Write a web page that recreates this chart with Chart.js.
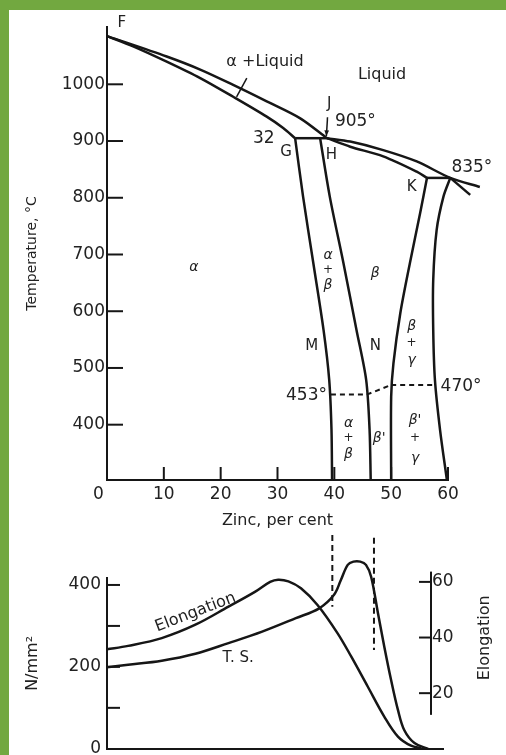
<!DOCTYPE html>
<html><head><meta charset="utf-8">
<script src="https://cdn.jsdelivr.net/npm/chart.js@4.4.1/dist/chart.umd.min.js"></script>
<style>
html,body{margin:0;padding:0;width:506px;height:755px;overflow:hidden;background:#72a840;}
#panel{position:absolute;left:9px;top:10px;width:497px;height:745px;background:#fff;}
#phase{position:absolute;left:9px;top:10px;}
#props{position:absolute;left:9px;top:535px;}
</style></head><body>
<div id="panel"></div>
<canvas id="phase" width="497" height="525"></canvas>
<canvas id="props" width="497" height="230"></canvas>
<script>
// ---------- data: phase diagram (zinc %, temperature °C) ----------
const zincTicks = [0, 10, 20, 30, 40, 50, 60];
const zincRange = [0, 60];
const tempTicks = [400, 500, 600, 700, 800, 900, 1000];
const tempRange = [302.5, 1101];

const liquidusAlpha = [[0,1085],[10.5,1049],[16.4,1026],[22.2,999],[28.1,970],[34.0,940],[38.7,905]];
const solidusAlpha  = [[0,1085],[4.6,1067],[10.5,1040],[16.4,1011],[22.2,978],[28.1,943],[31.0,923],[33.1,905]];
const peritectic    = [[33.1,905],[38.7,905]];
const liquidusBeta  = [[65.6,819],[60.4,835],[54.5,864],[48.6,884],[42.8,899],[38.7,905]];
const solidusBeta   = [[38.7,905],[42.8,890],[48.6,873],[54.5,846],[56.3,835]];
const peritecticK   = [[56.3,835],[60.4,835]];
const gammaTail     = [[60.4,835],[63.9,805]];
const alphaSolvus   = [[33.1,905],[34.5,802],[36.3,685],[38.1,567],[39.1,479],[39.5,391],[39.6,303]];
const betaLeft      = [[37.5,905],[39.2,802],[41.6,685],[43.9,567],[45.6,479],[46.2,391],[46.4,303]];
const betaRight     = [[56.3,835],[55.1,773],[53.3,685],[51.6,596],[50.4,508],[50.0,449],[50.0,303]];
const gammaLeft     = [[60.4,835],[59.2,802],[58.0,743],[57.4,655],[57.4,567],[57.7,479],[58.6,391],[59.8,303]];
const orderAlphaBeta = [[39.4,453],[45.7,453]];
const orderSlope     = [[45.7,453],[50.0,470]];
const orderBetaGamma = [[50.0,470],[57.5,470]];

// ---------- data: properties (zinc %, N/mm², elongation %) ----------
const propZincRange = [0, 58.9];
const strengthTicks = [0, 100, 200, 300, 400];
const strengthTickLabels = ['0', '', '200', '', '400'];
const strengthRange = [0, 417];
const elongTicks = [20, 40, 60];
const elongRange = [0, 61.4];
const elongAxisSpan = [12.2, 63.7];
const elongAxisZinc = 56.8;
const tensile = [[0,199],[3.7,205],[9.6,215],[15.5,232],[21.3,258],[27.2,286],[33.1,319],[37.2,343],[39.8,376],[41.0,412],[42.2,449],[43.2,457],[44.4,457],[45.4,449],[46.3,420],[47.5,331],[48.6,250],[49.8,168],[51.0,95],[52.1,46],[53.9,14],[56.3,0]];
const elongation = [[0,35.8],[3.7,37.0],[9.6,39.8],[15.5,44.6],[21.3,51.1],[26.0,56.5],[28.6,60.0],[30.0,60.8],[31.8,60.2],[34.0,57.7],[36.9,51.7],[40.4,41.6],[42.8,33.2],[45.7,22.4],[48.6,11.6],[51.0,4.4],[53.3,1.1],[55.1,0.2]];
const limitLow  = [[39.5,522],[39.5,347]];
const limitHigh = [[46.8,515],[46.8,241]];

// ---------- styling ----------
const INK = '#161616';
const TXT = '#222';
const FAM = '"DejaVu Sans", sans-serif';
const pts = a => a.map(([x, y]) => ({x, y}));

function lineSet(arr, opts = {}) {
  return Object.assign({data: pts(arr), showLine: true, borderColor: INK, borderWidth: 2.5,
    pointRadius: 0, tension: 0.3, fill: false, clip: false, capBezierPoints: false}, opts);
}
function dashSet(arr, extra = {}) {
  return lineSet(arr, Object.assign({borderDash: [5, 4], borderWidth: 2, tension: 0}, extra));
}
function text(ctx, s, x, y, font, rot = 0, align = 'center') {
  ctx.save(); ctx.translate(x, y); if (rot) ctx.rotate(rot * Math.PI / 180);
  ctx.font = font; ctx.fillStyle = TXT; ctx.textAlign = align; ctx.textBaseline = 'middle';
  ctx.fillText(s, 0, 0); ctx.restore();
}
function seg(ctx, x1, y1, x2, y2) { ctx.beginPath(); ctx.moveTo(x1, y1); ctx.lineTo(x2, y2); ctx.stroke(); }

// annotation labels for the phase diagram: [text, zinc, temp, kind]
const phaseLabels = [
  ['F', 2.6, 1107, 'l'], ['α +Liquid', 27.8, 1040, 'w'], ['Liquid', 48.4, 1017, 'w'],
  ['J', 39.1, 965, 'l'], ['905°', 43.7, 935, 'n'], ['32', 27.6, 905, 'n'],
  ['G', 31.5, 881, 'l'], ['H', 39.5, 876, 'l'], ['835°', 64.2, 853, 'n'], ['K', 53.6, 819, 'l'],
  ['α', 15.3, 678, 'g'],
  ['α', 38.9, 699, 'g'], ['+', 38.9, 673, 'p'], ['β', 38.9, 646, 'g'],
  ['β', 47.2, 667, 'g'], ['M', 36.0, 538, 'l'], ['N', 47.2, 538, 'l'],
  ['β', 53.6, 573, 'g'], ['+', 53.6, 544, 'p'], ['γ', 53.6, 514, 'g'],
  ['453°', 35.1, 452, 'n'], ['470°', 62.3, 468, 'n'],
  ['α', 42.5, 402, 'g'], ['+', 42.5, 376, 'p'], ['β', 42.5, 347, 'g'],
  ["β'", 47.9, 376, 'g'],
  ["β'", 54.2, 408, 'g'], ['+', 54.2, 376, 'p'], ['γ', 54.2, 341, 'g']
];
const labelFonts = {
  l: '15px ' + FAM, w: '16px ' + FAM, n: '17px ' + FAM,
  g: 'italic 14px ' + FAM, p: '12px ' + FAM
};
const pointers = [
  {from: [24.6, 1011], to: [22.8, 978], head: false},
  {from: [38.8, 942], to: [38.6, 909], head: true}
];

const phaseDecor = {
  id: 'phaseDecor',
  afterDraw(chart) {
    const {ctx, chartArea: ca, scales: {x, y}} = chart;
    ctx.save();
    ctx.strokeStyle = INK; ctx.lineWidth = 2;
    y.ticks.forEach(t => { const p = y.getPixelForValue(t.value); seg(ctx, ca.left, p, ca.left + 16, p); });
    x.ticks.forEach(t => { if (t.value === 0) return; const p = x.getPixelForValue(t.value); seg(ctx, p, ca.bottom, p, ca.bottom - 13); });
    ctx.lineWidth = 1.5;
    pointers.forEach(pt => {
      const x1 = x.getPixelForValue(pt.from[0]), y1 = y.getPixelForValue(pt.from[1]);
      const x2 = x.getPixelForValue(pt.to[0]), y2 = y.getPixelForValue(pt.to[1]);
      seg(ctx, x1, y1, x2, y2);
      if (pt.head) {
        const a = Math.atan2(y2 - y1, x2 - x1), s = 6;
        ctx.beginPath(); ctx.moveTo(x2, y2);
        ctx.lineTo(x2 - s * Math.cos(a - 0.4), y2 - s * Math.sin(a - 0.4));
        ctx.lineTo(x2 - s * Math.cos(a + 0.4), y2 - s * Math.sin(a + 0.4));
        ctx.closePath(); ctx.fillStyle = INK; ctx.fill();
      }
    });
    phaseLabels.forEach(([s, zx, tc, k]) => text(ctx, s, x.getPixelForValue(zx), y.getPixelForValue(tc), labelFonts[k]));
    ctx.restore();
  }
};

new Chart(document.getElementById('phase'), {
  type: 'scatter',
  data: {datasets: [
    lineSet(liquidusAlpha), lineSet(solidusAlpha), lineSet(peritectic, {tension: 0}),
    lineSet(liquidusBeta), lineSet(solidusBeta), lineSet(peritecticK, {tension: 0}), lineSet(gammaTail, {tension: 0}),
    lineSet(alphaSolvus), lineSet(betaLeft), lineSet(betaRight), lineSet(gammaLeft),
    dashSet(orderAlphaBeta), dashSet(orderSlope), dashSet(orderBetaGamma)
  ]},
  options: {
    responsive: false, animation: false, devicePixelRatio: 1,
    layout: {padding: {left: 0, top: 17, right: 58, bottom: 0}},
    plugins: {legend: {display: false}, tooltip: {enabled: false}},
    scales: {
      x: {type: 'linear', min: zincRange[0], max: zincRange[1],
        afterBuildTicks: s => { s.ticks = zincTicks.map(v => ({value: v})); },
        afterFit: s => { s.height = 55; },
        grid: {display: false, drawTicks: false}, border: {display: true, width: 2, color: INK},
        ticks: {padding: 4, autoSkip: false, maxRotation: 0, color: TXT, font: {family: FAM, size: 17},
          callback: v => v === 0 ? '0\u2003' : String(v)},
        title: {display: true, text: 'Zinc, per cent', color: TXT, font: {family: FAM, size: 16}, padding: {top: 0, bottom: 5}}
      },
      y: {type: 'linear', min: tempRange[0], max: tempRange[1],
        afterBuildTicks: s => { s.ticks = tempTicks.map(v => ({value: v})); },
        afterFit: s => { s.width = 98; },
        grid: {display: false, drawTicks: false}, border: {display: true, width: 2, color: INK},
        ticks: {padding: 2, autoSkip: false, color: TXT, font: {family: FAM, size: 17}, callback: v => String(v)},
        title: {display: true, text: 'Temperature, °C', color: TXT, font: {family: FAM, size: 14}, padding: {top: 15, bottom: 0}}
      }
    }
  },
  plugins: [phaseDecor]
});

// ---------- properties chart ----------
const curveLabels = [
  {s: 'Elongation', zx: 15.5, v: 333, rot: -21, font: '16px ' + FAM},
  {s: 'T. S.', zx: 23.0, v: 221, rot: 0, font: '15px ' + FAM}
];
const propDecor = {
  id: 'propDecor',
  afterDraw(chart) {
    const {ctx, chartArea: ca, scales: {x, y, y2}} = chart;
    ctx.save();
    ctx.strokeStyle = INK; ctx.lineWidth = 2;
    y.ticks.forEach(t => { if (t.value === 0) return; const p = y.getPixelForValue(t.value); seg(ctx, ca.left, p, ca.left + 13, p); });
    const ax = x.getPixelForValue(elongAxisZinc);
    seg(ctx, ax, y2.getPixelForValue(elongAxisSpan[0]), ax, y2.getPixelForValue(elongAxisSpan[1]));
    elongTicks.forEach(v => {
      const p = y2.getPixelForValue(v);
      seg(ctx, ax - 12, p, ax, p);
      text(ctx, String(v), ax + 1, p, '17px ' + FAM, 0, 'left');
    });
    text(ctx, 'Elongation', x.getPixelForValue(66.2), y2.getPixelForValue(39.9), '16px ' + FAM, -90);
    curveLabels.forEach(c => text(ctx, c.s, x.getPixelForValue(c.zx), y.getPixelForValue(c.v), c.font, c.rot));
    ctx.restore();
  }
};

new Chart(document.getElementById('props'), {
  type: 'scatter',
  data: {datasets: [
    lineSet(tensile, {yAxisID: 'y', tension: 0.35}),
    lineSet(elongation, {yAxisID: 'y2', tension: 0.35}),
    dashSet(limitLow, {yAxisID: 'y', borderDash: [6, 4]}),
    dashSet(limitHigh, {yAxisID: 'y', borderDash: [6, 4]})
  ]},
  options: {
    responsive: false, animation: false, devicePixelRatio: 1,
    layout: {padding: {left: 0, top: 43, right: 63, bottom: 0}},
    plugins: {legend: {display: false}, tooltip: {enabled: false}},
    scales: {
      x: {type: 'linear', min: propZincRange[0], max: propZincRange[1],
        afterFit: s => { s.height = 16; },
        grid: {display: false, drawTicks: false}, border: {display: true, width: 2, color: INK},
        ticks: {display: false}
      },
      y: {type: 'linear', position: 'left', min: strengthRange[0], max: strengthRange[1],
        afterBuildTicks: s => { s.ticks = strengthTicks.map(v => ({value: v})); },
        afterFit: s => { s.width = 98; },
        grid: {display: false, drawTicks: false}, border: {display: true, width: 2, color: INK},
        ticks: {padding: 6, autoSkip: false, color: TXT, font: {family: FAM, size: 17},
          callback: v => strengthTickLabels[strengthTicks.indexOf(v)] ?? ''},
        title: {display: true, text: 'N/mm²', color: TXT, font: {family: FAM, size: 16}, padding: {top: 14, bottom: 0}}
      },
      y2: {type: 'linear', position: 'right', display: false, min: elongRange[0], max: elongRange[1]}
    }
  },
  plugins: [propDecor]
});
</script></body></html>
